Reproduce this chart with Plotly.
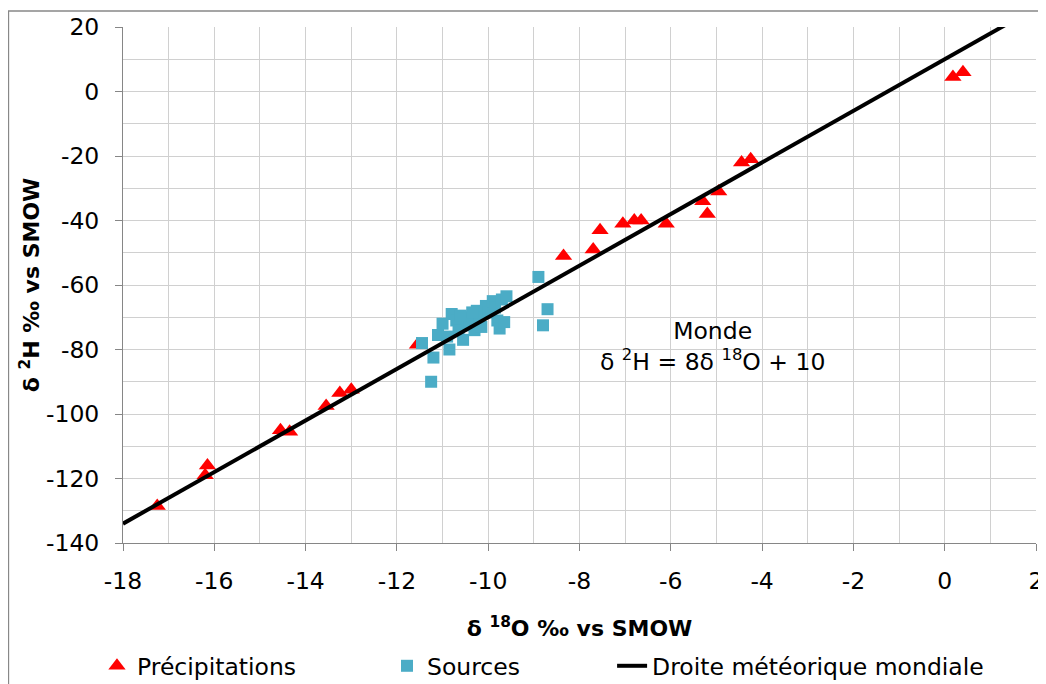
import plotly.graph_objects as go

# Précipitations (triangles)
precip_x = [-17.25, -16.15, -16.2, -14.55, -14.35, -13.55, -13.25, -13.0, -11.55,
            -8.35, -7.7, -7.55, -7.05, -6.8, -6.65, -6.1, -5.3, -5.2, -4.95,
            -4.45, -4.25, 0.18, 0.40]
precip_y = [-128.5, -116, -119, -105, -105.5, -97.5, -93.5, -92.5, -78.5,
            -51, -49, -43, -41, -40, -40, -41, -34, -38, -31,
            -22, -21, 4.5, 6]

# Sources (squares)
sources_x = [-11.45, -11.2, -11.25, -11.1, -11.0, -10.85, -10.8, -10.7, -10.65, -10.55,
             -10.5, -10.45, -10.4, -10.3, -10.25, -10.2, -10.15, -10.05, -10.0, -9.9,
             -9.85, -9.8, -9.75, -9.7, -9.65, -9.6, -8.9, -8.7, -8.8, -10.6, -10.9, -10.35]
sources_y = [-78, -82.5, -90, -75.5, -72, -80, -69, -71, -74, -77,
             -70, -72.5, -72, -74, -68, -70, -73, -66.5, -68.5, -65,
             -67, -71, -73.5, -64.5, -71.5, -63.5, -57.5, -67.5, -72.5, -69.5, -76, -68.5]

# Droite météorique mondiale: d2H = 8 d18O + 10
gmwl_x = [-18, 2]
gmwl_slope = 8
gmwl_intercept = 10
gmwl_y = [gmwl_slope * v + gmwl_intercept for v in gmwl_x]

# Tick labels (hyphen minus, as in the reference)
x_tickvals = [-18, -16, -14, -12, -10, -8, -6, -4, -2, 0, 2]
x_ticktext = ["-18", "-16", "-14", "-12", "-10", "-8", "-6", "-4", "-2", "0", "2"]
y_tickvals = [-140, -120, -100, -80, -60, -40, -20, 0, 20]
y_ticktext = ["-140", "-120", "-100", "-80", "-60", "-40", "-20", "0", "20"]

FONT = "DejaVu Sans, Liberation Sans, Arial, sans-serif"
FS = 23.5

fig = go.Figure()
fig.add_trace(go.Scatter(x=precip_x, y=precip_y, mode="markers", name="Précipitations",
                         marker=dict(symbol="triangle-up", size=15, color="#FF0000"),
                         legend="legend"))
fig.add_trace(go.Scatter(x=sources_x, y=sources_y, mode="markers", name="Sources",
                         marker=dict(symbol="square", size=12, color="#4BACC6"),
                         legend="legend"))
fig.add_trace(go.Scatter(x=gmwl_x, y=gmwl_y, mode="lines", name="Droite météorique mondiale",
                         line=dict(color="black", width=4), legend="legend2"))

fig.add_annotation(x=-5.08, y=-79, xref="x", yref="y", showarrow=False,
                   text="Monde<br>δ <sup>2</sup>H = 8δ <sup>18</sup>O + 10",
                   font=dict(size=FS, color="#000000", family=FONT), align="center")

fig.add_shape(type="rect", xref="paper", yref="paper",
              x0=-0.1255, x1=1.02, y0=-0.28, y1=1.031,
              line=dict(color="#888888", width=1.5), layer="below")

grid_col = "#d0d0d0"
leg_common = dict(orientation="h", xanchor="left", y=-0.2384, yanchor="middle",
                  font=dict(size=FS, family=FONT), bgcolor="rgba(0,0,0,0)")
fig.update_layout(
    width=1038, height=676,
    margin=dict(l=115, r=10, t=19, b=141, autoexpand=False),
    paper_bgcolor="white", plot_bgcolor="white",
    font=dict(family=FONT, size=FS, color="#000000"),
    showlegend=True,
    legend=dict(x=-0.0285, entrywidthmode="pixels", entrywidth=245, **leg_common),
    legend2=dict(x=0.5357, **leg_common),
    xaxis=dict(range=[-18, 2], tickvals=x_tickvals, ticktext=x_ticktext,
               showgrid=True, gridcolor=grid_col,
               minor=dict(dtick=1, tick0=-18, showgrid=True, gridcolor=grid_col),
               showline=True, linecolor="#868686", linewidth=1,
               ticks="outside", ticklen=7, tickcolor="#868686", zeroline=False,
               tickfont=dict(size=FS), ticklabelstandoff=10, automargin=False,
               title=dict(text="<b>δ <sup>18</sup>O ‰ vs SMOW</b>", font=dict(size=22), standoff=26)),
    yaxis=dict(range=[-140, 20], tickvals=y_tickvals, ticktext=y_ticktext,
               showgrid=True, gridcolor=grid_col,
               minor=dict(dtick=10, tick0=-140, showgrid=True, gridcolor=grid_col),
               showline=True, linecolor="#868686", linewidth=1,
               ticks="outside", ticklen=7, tickcolor="#868686", zeroline=False,
               tickfont=dict(size=FS), ticklabelstandoff=11, automargin=False,
               title=dict(text="<b>δ <sup>2</sup>H ‰ vs SMOW</b>", font=dict(size=22), standoff=0)),
)

fig.write_html("out.html")
